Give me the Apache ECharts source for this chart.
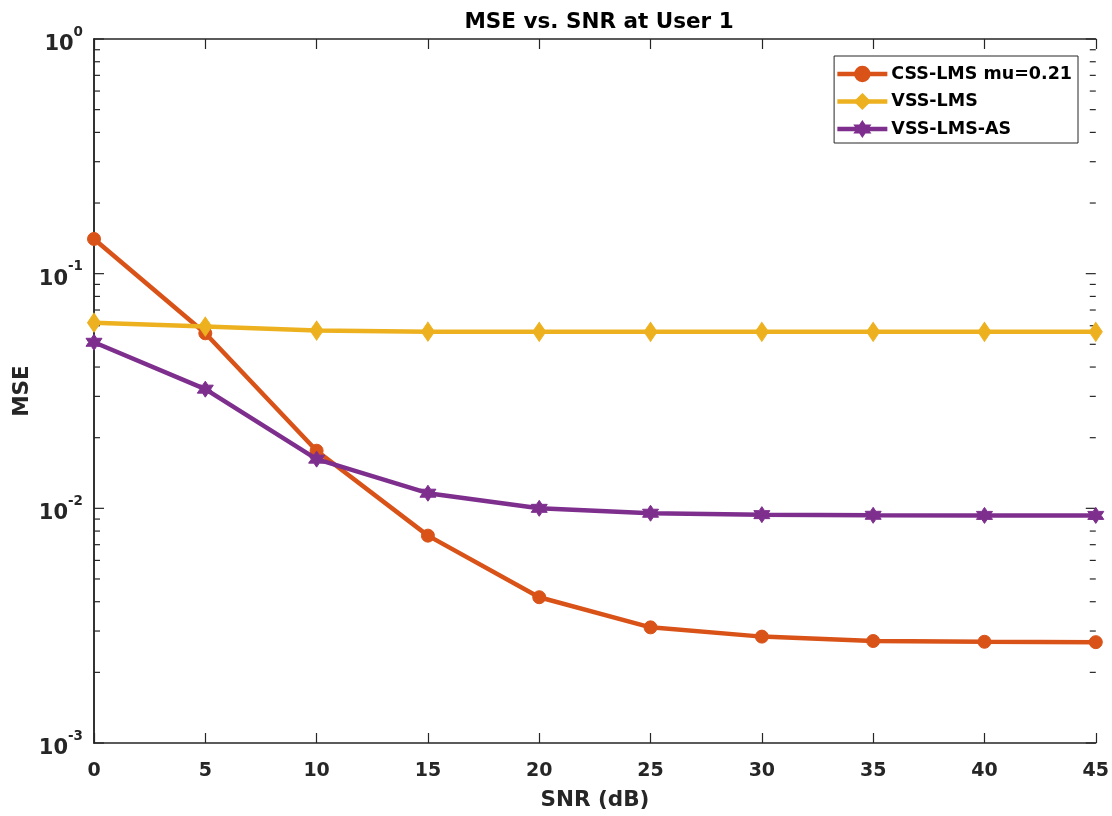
<!DOCTYPE html>
<html>
<head>
<meta charset="utf-8">
<script src="https://cdn.jsdelivr.net/npm/echarts@6/dist/echarts.min.js"></script>
<style>
  html, body { margin: 0; padding: 0; background: #fff; }
  #chart { width: 1112px; height: 816px; }
</style>
</head>
<body>
<div id="chart"></div>
<script>
// SNR sweep (dB)
const snr = [0, 5, 10, 15, 20, 25, 30, 35, 40, 45];
// MSE per algorithm
const cssLms   = [0.1406, 0.0557, 0.0176, 0.00765, 0.00418, 0.00311, 0.00284, 0.00272, 0.00270, 0.00269];
const vssLms   = [0.0618, 0.0595, 0.0572, 0.0566, 0.0565, 0.0565, 0.0565, 0.0565, 0.0565, 0.0565];
const vssLmsAs = [0.0510, 0.0322, 0.0162, 0.0116, 0.0100, 0.00953, 0.00940, 0.00934, 0.00933, 0.00933];
const seriesNames = ['CSS-LMS mu=0.21', 'VSS-LMS', 'VSS-LMS-AS'];
// log-axis tick values: decades get long ticks, 2..9 multiples get short ones
const majorTicks = [0.001, 0.01, 0.1, 1];
const minorTicks = [];
[0.001, 0.01, 0.1].forEach(d => { for (let k = 2; k <= 9; k++) minorTicks.push(+(d * k).toPrecision(3)); });

const axisColor = '#262626';
const FONT = '"DejaVu Sans", Verdana, sans-serif';
const hexagram = 'path://M0,-10 L2.89,-5 L8.66,-5 L5.77,0 L8.66,5 L2.89,5 L0,10 L-2.89,5 L-8.66,5 L-5.77,0 L-8.66,-5 L-2.89,-5 Z';

const chart = echarts.init(document.getElementById('chart'), null, { renderer: 'canvas' });

const pairs = arr => snr.map((x, i) => [x, arr[i]]);
const tickRows = majorTicks.map(v => [0, v, 10]).concat(minorTicks.map(v => [0, v, 6]));

const xBase = {
  type: 'value', min: 0, max: 45, interval: 5,
  axisLine: { show: true, lineStyle: { color: axisColor, width: 1.5 } },
  axisTick: { show: true, inside: true, length: 10, lineStyle: { color: axisColor, width: 1.2 } },
  splitLine: { show: false }
};
const yBase = {
  type: 'log', logBase: 10, min: 0.001, max: 1,
  axisLine: { show: true, lineStyle: { color: axisColor, width: 1.5 } },
  axisTick: { show: false },
  splitLine: { show: false },
  minorTick: { show: false }
};

chart.setOption({
  animation: false,
  backgroundColor: '#fff',
  title: {
    text: 'MSE vs. SNR at User 1',
    left: 594, top: 6, textAlign: 'center',
    textStyle: { fontFamily: FONT, fontWeight: 'bold', fontSize: 21.5, color: '#000' }
  },
  grid: { left: 94, right: 16, top: 39, bottom: 73, containLabel: false },
  legend: {
    data: seriesNames,
    orient: 'vertical',
    right: 34, top: 56,
    itemWidth: 50, itemHeight: 18, itemGap: 9.5,
    padding: [9, 6, 5, 1],
    borderColor: '#262626', borderWidth: 1,
    backgroundColor: '#fff',
    lineStyle: { width: 'inherit' },
    textStyle: { fontFamily: FONT, fontWeight: 'bold', fontSize: 17.5, color: '#000', padding: [0, 0, 0, -1] }
  },
  xAxis: [
    Object.assign({}, xBase, {
      position: 'bottom',
      name: 'SNR (dB)', nameLocation: 'middle', nameGap: 46,
      nameTextStyle: { fontFamily: FONT, fontWeight: 'bold', fontSize: 21.5, color: '#262626' },
      axisLabel: { margin: 19, fontFamily: FONT, fontWeight: 'bold', fontSize: 19, color: '#262626' }
    }),
    Object.assign({}, xBase, { position: 'top', axisLabel: { show: false } })
  ],
  yAxis: [
    Object.assign({}, yBase, {
      position: 'left',
      name: 'MSE', nameLocation: 'middle', nameGap: 61, nameRotate: 90,
      nameMoveOverlap: false,
      nameTextStyle: { fontFamily: FONT, fontWeight: 'bold', fontSize: 21.5, color: '#262626' },
      axisLabel: {
        margin: 11,
        padding: [10, 0, 0, 0],
        formatter: v => '{b|10}{s|' + Math.round(Math.log10(v)) + '}',
        rich: {
          b: { fontFamily: FONT, fontWeight: 'bold', fontSize: 21, color: '#262626', verticalAlign: 'bottom', lineHeight: 22 },
          s: { fontFamily: FONT, fontWeight: 'bold', fontSize: 13.5, color: '#262626', verticalAlign: 'bottom', lineHeight: 14, padding: [0, 0, 16, 0] }
        }
      }
    }),
    Object.assign({}, yBase, { position: 'right', axisLabel: { show: false } })
  ],
  series: [
    {
      // inward ticks on both the left and right frame edges of the log axis
      type: 'custom', silent: true, z: 1,
      xAxisIndex: 0, yAxisIndex: 0,
      data: tickRows,
      renderItem: (params, api) => {
        const v = api.value(1);
        const len = api.value(2);
        const a = api.coord([0, v]);
        const b = api.coord([45, v]);
        const style = { stroke: axisColor, lineWidth: 1.2 };
        return {
          type: 'group',
          children: [
            { type: 'line', shape: { x1: a[0], y1: a[1], x2: a[0] + len, y2: a[1] }, style },
            { type: 'line', shape: { x1: b[0] - len, y1: b[1], x2: b[0], y2: b[1] }, style }
          ]
        };
      }
    },
    {
      name: seriesNames[0], type: 'line', data: pairs(cssLms),
      color: '#D95319',
      lineStyle: { width: 4.5, color: '#D95319' },
      symbol: 'circle', symbolSize: 13,
      itemStyle: { color: '#D95319', borderColor: '#D95319', borderWidth: 1 },
      z: 3
    },
    {
      name: seriesNames[1], type: 'line', data: pairs(vssLms),
      color: '#EDB120',
      lineStyle: { width: 4.5, color: '#EDB120' },
      symbol: 'diamond', symbolSize: [13, 19],
      itemStyle: { color: '#EDB120', borderColor: '#EDB120', borderWidth: 1 },
      z: 4
    },
    {
      name: seriesNames[2], type: 'line', data: pairs(vssLmsAs),
      color: '#7E2F8E',
      lineStyle: { width: 4.5, color: '#7E2F8E' },
      symbol: hexagram, symbolSize: 16,
      itemStyle: { color: '#7E2F8E', borderColor: '#7E2F8E', borderWidth: 1 },
      z: 5
    }
  ]
});
</script>
</body>
</html>
